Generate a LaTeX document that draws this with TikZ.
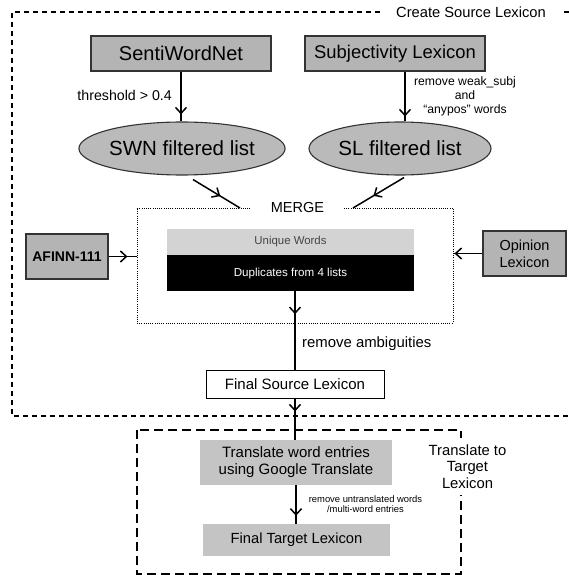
\documentclass[tikz,border=0pt]{standalone}
\usepackage{fontspec}
\setmainfont{Liberation Sans}
\usetikzlibrary{arrows.meta,decorations.markings,shapes.geometric,calc}
\definecolor{boxgray}{HTML}{B4B4B4}
\definecolor{ellgray}{HTML}{BABABA}
\definecolor{lightbox}{HTML}{C4C4C4}
\definecolor{uniqgray}{HTML}{D3D3D3}
\definecolor{uniqtext}{HTML}{444444}
\definecolor{edgegray}{HTML}{333333}
\tikzset{
  mybarb/.tip={Straight Barb[length=6pt,width=11pt,line width=1.5pt]},
  conn/.style={line width=1.5pt},
  tipat/.style={postaction={decorate},decoration={markings,mark=at position #1 with {\arrow{mybarb}}}},
  graybox/.style={draw=edgegray,line width=1.1pt,fill=boxgray,inner sep=0pt},
  ellnode/.style={ellipse,draw=edgegray,line width=1.1pt,fill=ellgray,inner sep=0pt,minimum width=182pt,minimum height=53pt,font=\fontsize{20.5}{24}\selectfont},
  txt/.style={inner sep=0pt},
  outerdash/.style={line width=1.7pt,dash pattern=on 5pt off 4pt},
  innerdash/.style={line width=1.7pt,dash pattern=on 9pt off 5pt},
}
\begin{document}
\begin{tikzpicture}[x=1pt,y=-1pt]
\useasboundingbox (0,0) rectangle (569,575);
% outer dashed frame
\draw[outerdash] (569,12) -- (12,12) -- (12,416) -- (569,416);
\node[fill=white,inner sep=0pt,minimum width=177pt,minimum height=16pt,font=\fontsize{14.7}{17}\selectfont] (cslabel) at (471,12) {Create Source Lexicon};
% inner dashed frame
\draw[innerdash] (137,430) rectangle (461,574);
\node[fill=white,inner sep=0pt,minimum width=80pt,minimum height=57pt,align=center,font=\fontsize{14.8}{16.5}\selectfont] (ttlabel) at (467.5,466.5) {Translate to\\Target\\Lexicon};
% sources
\node[graybox,minimum width=180pt,minimum height=35pt,font=\fontsize{20}{24}\selectfont] (swn) at (181,53.5) {SentiWordNet};
\node[graybox,minimum width=180pt,minimum height=35pt,font=\fontsize{18.4}{22}\selectfont] (subj) at (395,53.5) {Subjectivity Lexicon};
\node[ellnode] (swnf) at (182,148.5) {SWN filtered list};
\node[ellnode] (slf) at (400,148.5) {SL filtered list};
% merge block
\node[draw,line width=1pt,dash pattern=on 1pt off 1.2pt,minimum width=316pt,minimum height=115pt,inner sep=0pt] (merge) at (295,265.5) {};
\node[fill=white,inner sep=0pt,minimum width=91pt,minimum height=12pt,font=\fontsize{14.5}{17}\selectfont] (mlabel) at (297.5,208) {MERGE};
\node[fill=uniqgray,text=uniqtext,inner sep=0pt,minimum width=247pt,minimum height=26pt,font=\fontsize{11.4}{13}\selectfont] (uniq) at (290.5,242) {Unique Words};
\node[fill=black,text=white,inner sep=0pt,minimum width=247pt,minimum height=36pt,font=\fontsize{11.6}{13}\selectfont] (dup) at (290.5,273) {Duplicates from 4 lists};
\node[graybox,minimum width=82pt,minimum height=45pt,font=\bfseries\fontsize{14}{17}\selectfont] (afinn) at (67,256.5) {AFINN-111};
\node[graybox,minimum width=83pt,minimum height=45pt,align=center,font=\fontsize{14.5}{17}\selectfont] (opin) at (524.5,253.5) {Opinion\\Lexicon};
% outputs
\node[draw=black,line width=1pt,fill=white,inner sep=0pt,minimum width=178pt,minimum height=28pt,font=\fontsize{15}{18}\selectfont] (fsl) at (295,384) {Final Source Lexicon};
\node[fill=lightbox,inner sep=0pt,minimum width=192pt,minimum height=45pt,align=center,font=\fontsize{15}{17}\selectfont] (trans) at (296,462.5) {Translate word entries\\using Google Translate};
\node[fill=lightbox,inner sep=0pt,minimum width=187pt,minimum height=32pt,font=\fontsize{14.7}{17}\selectfont] (ftl) at (296.5,540) {Final Target Lexicon};
% connectors
\coordinate (ml) at (240,208);
\coordinate (mr) at (353,208);
\draw[conn,tipat=-7pt] (swn.south) -- (swn.south |- swnf.north);
\draw[conn,tipat=-5pt] ([xshift=10pt]subj.south) -- ([xshift=10pt]subj.south |- slf.north);
\draw[conn,tipat=0.58] ([shift={(11,4)}]swnf.south) -- (ml);
\draw[conn,tipat=0.6] ([shift={(4,2)}]slf.south) -- (mr);
\draw[conn,tipat=-9pt] (afinn.east) -- (merge.west |- afinn.east);
\draw[conn,tipat=-1pt] (opin.west) -- (merge.east |- opin.west);
\draw[conn,tipat=23pt] (fsl.north |- dup.south) -- (fsl.north);
\draw[conn,tipat=13pt] (fsl.south) -- (fsl.south |- trans.north);
\draw[conn,tipat=-8pt] (trans.south) -- (trans.south |- ftl.north);
% labels
\node[txt,anchor=east,font=\fontsize{14.2}{17}\selectfont] (thr) at (172,95) {threshold > 0.4};
\node[txt,align=center,font=\fontsize{12.2}{14}\selectfont] (wsl) at (465,96) {remove weak\_subj\\and\\“anypos” words};
\node[txt,anchor=west,font=\fontsize{14.9}{17}\selectfont] (amb) at (302,344) {remove ambiguities};
\node[txt,align=center,font=\fontsize{9.4}{10.5}\selectfont] (untr) at (365.5,504) {remove untranslated words\\/multi-word entries};
\end{tikzpicture}
\end{document}
